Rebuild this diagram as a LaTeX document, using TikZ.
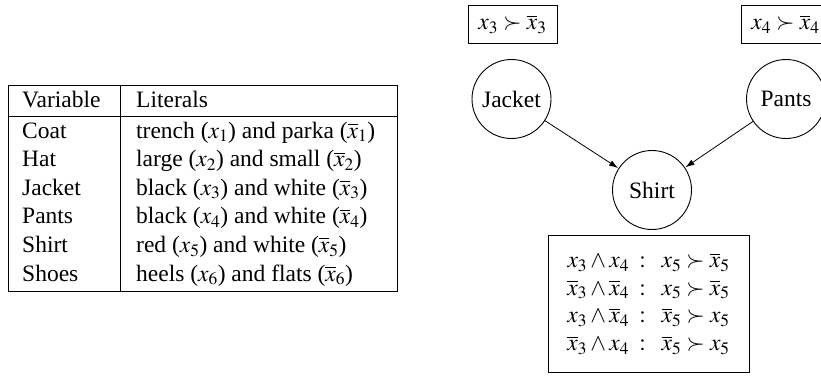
\documentclass[tikz,border=0pt]{standalone}
\usepackage{mathptmx}
\usepackage{fontspec}
\setmainfont{Liberation Serif}
\usetikzlibrary{arrows.meta}
\tikzset{
  cell/.style={anchor=base west, inner sep=0pt},
  prefbox/.style={draw, line width=0.9pt, minimum width=89pt, minimum height=38pt, inner sep=0pt},
  var/.style={draw, circle, line width=0.9pt, minimum size=79pt, inner sep=0pt},
  dep/.style={-{Latex[length=9pt,width=6pt]}, line width=0.8pt, shorten >=0.5pt},
  rule/.style={line width=0.9pt}
}
\begin{document}
\begin{tikzpicture}[x=1pt,y=-1pt,font=\fontsize{23.5}{27.7}\selectfont]
\useasboundingbox (0,0) rectangle (821,375);
% table
\draw[rule] (8,85) rectangle (397,291);
\draw[rule] (8,116) -- (397,116);
\draw[rule] (120,85) -- (120,291);
\node[cell] (h1) at (22,107) {Variable};
\node[cell] (h2) at (136,107) {Literals};
\node[cell] (c1) at (22,138) {Coat};
\node[cell] (d1) at (136,138) {trench ($x_1$) and parka ($\overline{x}_1$)};
\node[cell] (c2) at (22,166.6) {Hat};
\node[cell] (d2) at (136,166.6) {large ($x_2$) and small ($\overline{x}_2$)};
\node[cell] (c3) at (22,195.2) {Jacket};
\node[cell] (d3) at (136,195.2) {black ($x_3$) and white ($\overline{x}_3$)};
\node[cell] (c4) at (22,223.8) {Pants};
\node[cell] (d4) at (136,223.8) {black ($x_4$) and white ($\overline{x}_4$)};
\node[cell] (c5) at (22,252.4) {Shirt};
\node[cell] (d5) at (136,252.4) {red ($x_5$) and white ($\overline{x}_5$)};
\node[cell] (c6) at (22,281) {Shoes};
\node[cell] (d6) at (136,281) {heels ($x_6$) and flats ($\overline{x}_6$)};
% graph
\node[prefbox] (p3) at (512.5,24) {$x_3 \succ \overline{x}_3$};
\node[prefbox] (p4) at (785.5,24) {$x_4 \succ \overline{x}_4$};
\node[var] (jacket) at (511.5,99) {Jacket};
\node[var] (pants) at (786,99) {Pants};
\node[var] (shirt) at (652,190) {Shirt};
\draw[dep] (jacket) -- (shirt);
\draw[dep] (pants) -- (shirt);
\node[draw, line width=0.9pt, minimum width=201pt, minimum height=137pt, inner sep=0pt] (cpt) at (648.5,303.5)
 {$\begin{array}{r@{\;\;:\;\;\;}r}
  x_3 \wedge x_4 & x_5 \succ \overline{x}_5\\
  \overline{x}_3 \wedge \overline{x}_4 & x_5 \succ \overline{x}_5\\
  x_3 \wedge \overline{x}_4 & \overline{x}_5 \succ x_5\\
  \overline{x}_3 \wedge x_4 & \overline{x}_5 \succ x_5
 \end{array}$};
\end{tikzpicture}
\end{document}
